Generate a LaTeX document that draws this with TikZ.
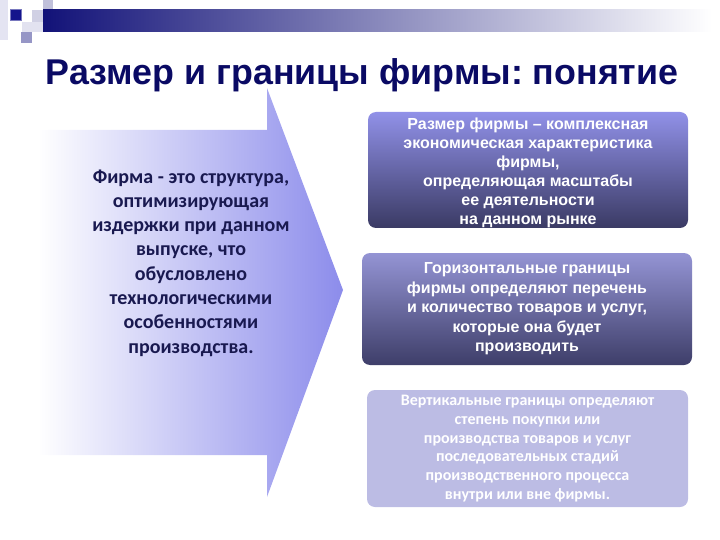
\documentclass[tikz,border=0pt]{standalone}
\usepackage{fontspec}
\setmainfont{Liberation Sans}
\newfontfamily\carl{Carlito}
\frenchspacing
\definecolor{titlenavy}{RGB}{10,10,100}
\definecolor{textnavy}{RGB}{25,25,80}
\definecolor{barnavy}{RGB}{18,18,120}
\definecolor{arrowblue}{RGB}{140,140,235}
\definecolor{boxonetop}{RGB}{145,145,232}
\definecolor{boxonebot}{RGB}{58,58,100}
\definecolor{boxtwotop}{RGB}{148,148,212}
\definecolor{boxtwobot}{RGB}{62,62,105}
\definecolor{boxthree}{RGB}{188,188,228}
\begin{document}
\begin{tikzpicture}[x=1pt,y=-1pt,
  infobox/.style={rounded corners=8pt, align=center, text=white, inner sep=0pt},
  sq/.style={draw=none}]
\useasboundingbox (0,0) rectangle (720,540);
% top decoration
\fill[sq, fill={rgb,255:red,228;green,228;blue,242}] (0,0) rectangle (8,40);
\fill[sq, fill={rgb,255:red,192;green,192;blue,218}] (43,0) rectangle (53,10);
\fill[sq, fill={rgb,255:red,208;green,208;blue,228}] (32,10) rectangle (43,22);
\fill[sq, fill={rgb,255:red,226;green,226;blue,240}] (22,22) rectangle (43,32);
\fill[sq, fill={rgb,255:red,150;green,150;blue,198}] (21,32) rectangle (32,43);
\shade[left color=barnavy, right color=white] (43,10) rectangle (712,32);
\filldraw[fill={rgb,255:red,20;green,20;blue,140}, draw={rgb,255:red,120;green,120;blue,190}, line width=1pt] (10.5,9.5) rectangle (21.5,20.5);
% title
\node[anchor=base, text=titlenavy, font=\fontsize{35.8}{42}\selectfont\bfseries] (title) at (362,85) {Размер и границы фирмы: понятие};
% arrow
\shade[left color=white, right color=arrowblue]
  (38,130) -- (267,130) -- (267,88) -- (343,290) -- (267,497) -- (267,455) -- (38,455) -- cycle;
\node[align=center, text=textnavy, font=\carl\fontsize{20}{24.3}\selectfont\bfseries] (firm) at (191,263)
  {Фирма - это структура,\\оптимизирующая\\издержки при данном\\выпуске, что\\обусловлено\\технологическими\\особенностями\\производства.};
% boxes
\node[infobox, top color=boxonetop, bottom color=boxonebot, minimum width=320pt, minimum height=116pt,
  font=\fontsize{16}{19}\selectfont\bfseries] (size) at (528,170) {};
\node[align=center, text=white, inner sep=0pt, font=\fontsize{16}{19}\selectfont\bfseries] (sizetext) at (528,172.5)
  {Размер фирмы – комплексная\\экономическая характеристика\\фирмы,\\определяющая масштабы\\ее деятельности\\на данном рынке};
\node[infobox, top color=boxtwotop, bottom color=boxtwobot, minimum width=330pt, minimum height=112pt,
  font=\fontsize{16}{19.5}\selectfont\bfseries] (horiz) at (527,309)
  {Горизонтальные границы\\фирмы определяют перечень\\и количество товаров и услуг,\\которые она будет\\производить};
\node[infobox, fill=boxthree, minimum width=321pt, minimum height=117pt,
  font=\carl\fontsize{16}{18.7}\selectfont\bfseries] (vert) at (527.5,448.5)
  {Вертикальные границы определяют\\степень покупки или\\производства товаров и услуг\\последовательных стадий\\производственного процесса\\внутри или вне фирмы.};
\end{tikzpicture}
\end{document}
